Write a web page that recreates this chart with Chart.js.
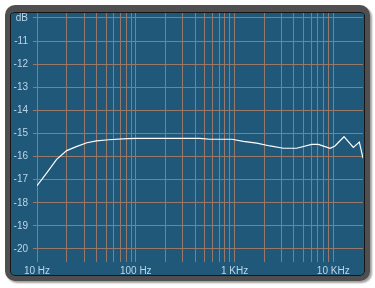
<!DOCTYPE html>
<html>
<head>
<meta charset="utf-8">
<script src="https://cdn.jsdelivr.net/npm/chart.js@4"></script>
<style>
  html, body { margin: 0; padding: 0; background: #fff; }
  #wrap { position: relative; width: 375px; height: 288px; }
  #frame {
    position: absolute; left: 5px; top: 5px; width: 365px; height: 276px;
    box-sizing: border-box;
    border-style: solid; border-color: #4f4f4f;
    border-width: 7px 5px 5px 5px;
    border-radius: 10px;
    background: #1f5878;
    box-shadow: inset 0 0 0 1px #151515, 2px 2px 2px #a0a0a0;
  }
  canvas { position: absolute; left: 0; top: 0; }
</style>
</head>
<body>
<div id="wrap">
  <div id="frame"></div>
  <canvas id="resp" width="375" height="288"></canvas>
</div>
<script>
// frequency response
const freqs  = [10, 12.5, 15.8, 20, 25, 32, 40, 53, 81, 102, 445, 565, 940, 1230, 1680, 2290, 3120, 4260, 6050, 7070, 9270, 10400, 12850, 15960, 18360, 20000]
const levels = [-17.26, -16.72, -16.12, -15.74, -15.57, -15.40, -15.32, -15.27, -15.22, -15.21, -15.21, -15.25, -15.25, -15.34, -15.42, -15.54, -15.64, -15.64, -15.47, -15.47, -15.64, -15.54, -15.14, -15.60, -15.37, -16.07]

// grid lines / tick labels
const xTicks = [10, 20, 30, 40, 50, 60, 70, 80, 90,
                100, 200, 300, 400, 500, 600, 700, 800, 900,
                1000, 2000, 3000, 4000, 5000, 6000, 7000, 8000, 9000, 10000]
const xLabels = { 10: '10 Hz', 100: '100 Hz', 1000: '1 KHz', 10000: '10 KHz' }
const yTicks = [-10, -11, -12, -13, -14, -15, -16, -17, -18, -19, -20]

const gridCol = '#98786a'
const txtCol = '#bcd6ea'

const ctx = document.getElementById('resp')

const chart = new Chart(ctx, {
  type: 'line',
  data: {
    datasets: [{
      data: freqs.map((f, i) => ({ x: f, y: levels[i] })),
      borderColor: '#ffffff',
      borderWidth: 1.2,
      pointRadius: 0,
      tension: 0,
      fill: false
    }]
  },
  options: {
    responsive: false,
    animation: false,
    layout: { padding: { left: 0, top: 13, right: 12, bottom: 0 } },
    plugins: { legend: { display: false }, tooltip: { enabled: false } },
    scales: {
      x: {
        type: 'logarithmic',
        min: 10,
        max: 20000,
        afterBuildTicks: (s) => { s.ticks = xTicks.map(v => ({ value: v })) },
        afterFit: (s) => { s.height = 30 },
        border: { display: false },
        grid: { color: gridCol, lineWidth: 1, tickLength: 4 },
        ticks: {
          autoSkip: false,
          maxRotation: 0,
          padding: 3,
          color: txtCol,
          font: { family: 'Liberation Sans', size: 10 },
          callback: (v) => xLabels[v] || ''
        }
      },
      y: {
        min: -20.39,
        max: -9.784,
        afterBuildTicks: (s) => { s.ticks = yTicks.map(v => ({ value: v })) },
        afterFit: (s) => { s.width = 37 },
        border: { display: false },
        grid: { color: gridCol, lineWidth: 1, tickLength: 4 },
        ticks: {
          padding: 5,
          color: txtCol,
          font: { family: 'Liberation Sans', size: 10 },
          callback: (v) => v == -10 ? 'dB' : v
        }
      }
    }
  }
})
</script>
</body>
</html>
